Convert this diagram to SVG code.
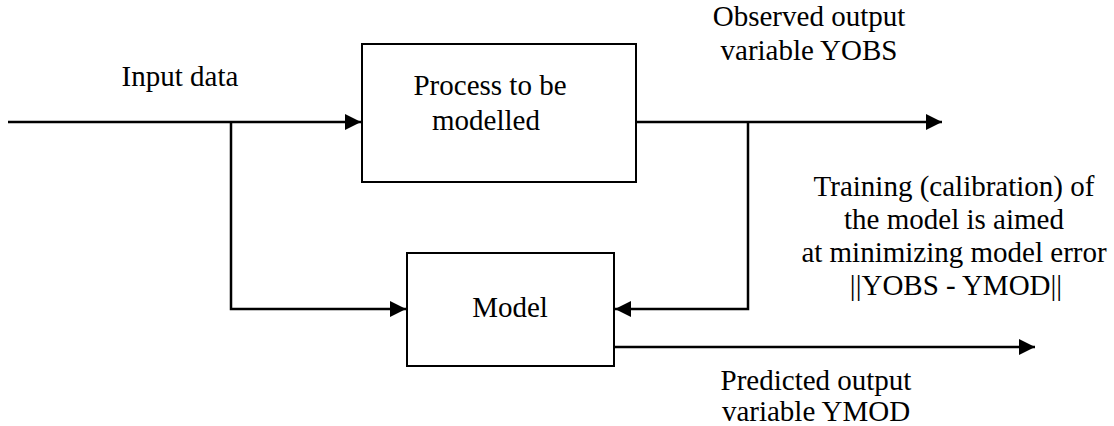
<svg xmlns="http://www.w3.org/2000/svg" width="1114" height="426" viewBox="0 0 1114 426">
<style>
.box{fill:#fff;stroke:#000;stroke-width:2}
.wire{fill:none;stroke:#000;stroke-width:2.5}
text{font-family:"Liberation Serif","Times New Roman",serif;font-size:29px;fill:#000}
.c{text-anchor:middle}
</style>
<defs>
<marker id="ah" markerUnits="userSpaceOnUse" markerWidth="16" markerHeight="16" refX="16" refY="8" orient="auto">
<path d="M0,0 L16,8 L0,16 Z" fill="#000"/>
</marker>
</defs>
<rect width="1114" height="426" fill="#fff"/>
<g id="connectors">
<path class="wire" d="M8,122 H361" marker-end="url(#ah)"/>
<path class="wire" d="M231,122 V309 H406" marker-end="url(#ah)"/>
<path class="wire" d="M636,122 H942" marker-end="url(#ah)"/>
<path class="wire" d="M748,122 V309 H615" marker-end="url(#ah)"/>
<path class="wire" d="M614,347 H1035" marker-end="url(#ah)"/>
</g>
<g id="process">
<rect class="box" x="362" y="44" width="274" height="138"/>
<text class="c" x="490" y="95">Process to be</text>
<text class="c" x="486" y="130">modelled</text>
</g>
<g id="model">
<rect class="box" x="407" y="253" width="207" height="113"/>
<text class="c" x="510" y="317">Model</text>
</g>
<g id="labels">
<text class="c" x="180" y="86">Input data</text>
<text class="c" x="809" y="26">Observed output</text>
<text class="c" x="809" y="60">variable YOBS</text>
<text class="c" x="954" y="196">Training (calibration) of</text>
<text class="c" x="954" y="229">the model is aimed</text>
<text class="c" x="954" y="262">at minimizing model error</text>
<text class="c" x="956" y="295">||YOBS - YMOD||</text>
<text class="c" x="816" y="390">Predicted output</text>
<text class="c" x="816" y="421">variable YMOD</text>
</g>
</svg>
